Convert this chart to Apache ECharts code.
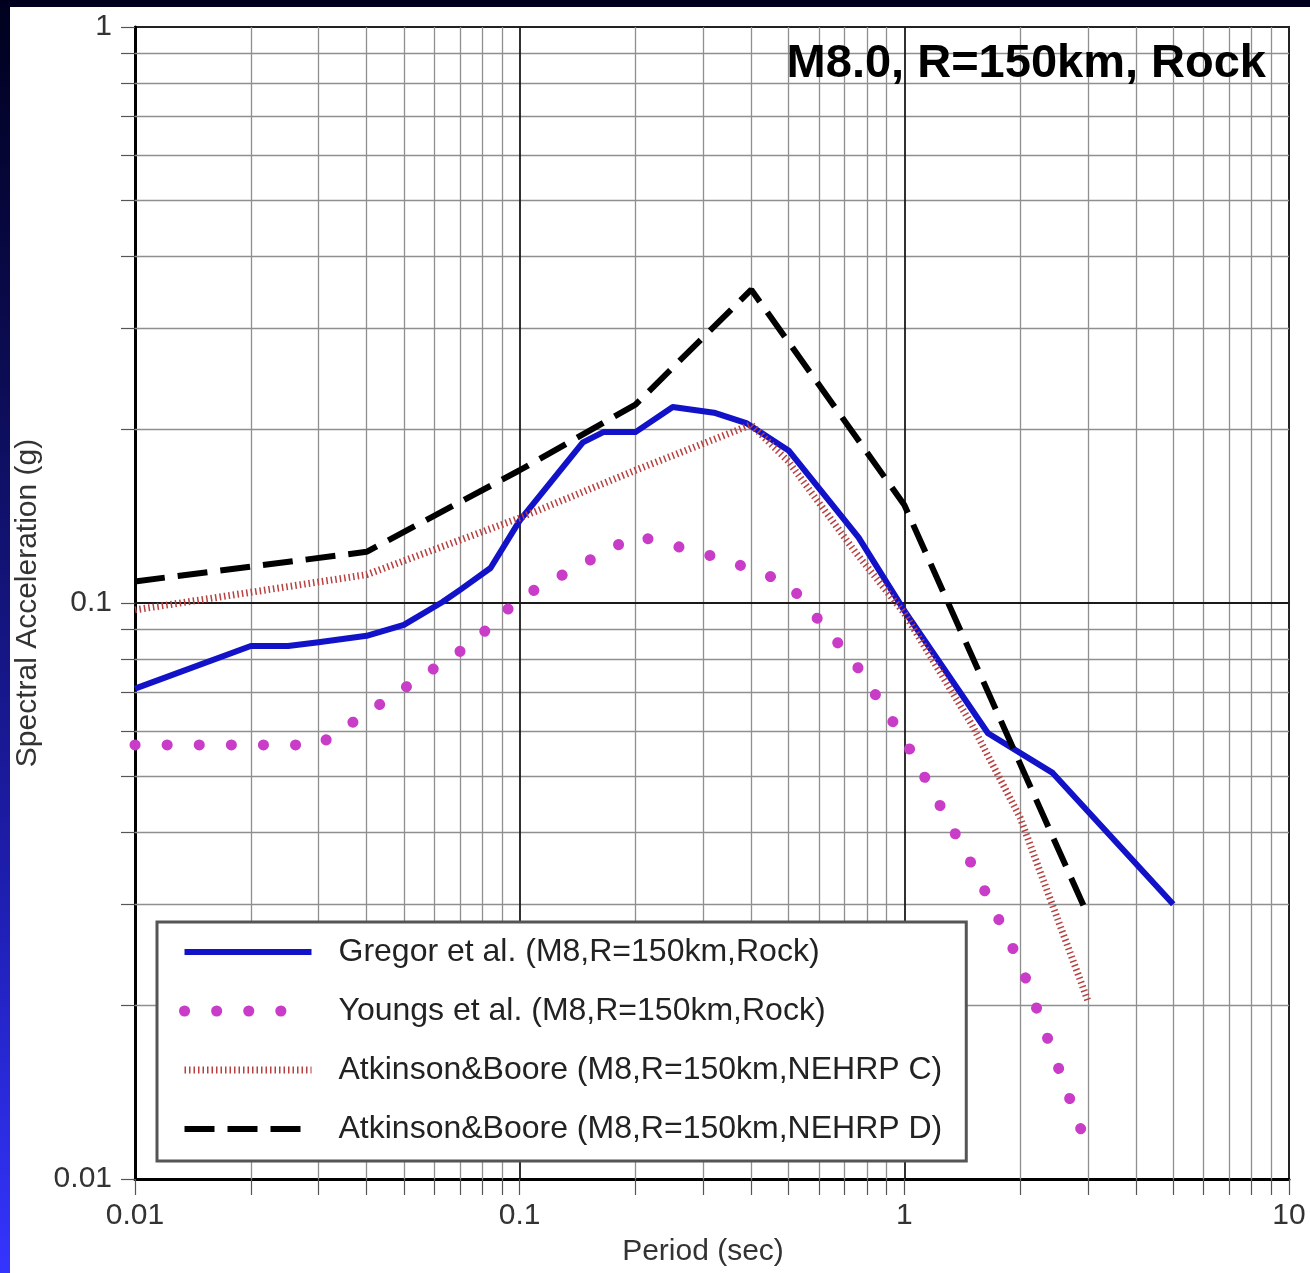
<!DOCTYPE html>
<html>
<head>
<meta charset="utf-8">
<script src="https://cdn.jsdelivr.net/npm/echarts@6/dist/echarts.min.js"></script>
<style>
  html, body { margin: 0; padding: 0; width: 1310px; height: 1273px; overflow: hidden;
    background: linear-gradient(to bottom, #00001e 0%, #0c0c55 30%, #1e1eb0 70%, #3434ff 100%); }
  #chart { position: absolute; left: 10px; top: 7px; width: 1300px; height: 1266px; background: #ffffff; }
</style>
</head>
<body>
<div id="chart"></div>
<script>
// ---------------- data ----------------
const seriesNames = [
  'Gregor et al. (M8,R=150km,Rock)',
  'Youngs et al. (M8,R=150km,Rock)',
  'Atkinson&Boore (M8,R=150km,NEHRP C)',
  'Atkinson&Boore (M8,R=150km,NEHRP D)'
];

const gregorPeriod = [0.01, 0.02, 0.025, 0.03, 0.04, 0.05, 0.063, 0.07, 0.084, 0.1, 0.146, 0.165, 0.2, 0.25, 0.32, 0.39, 0.5, 0.76, 1.0, 1.65, 2.43, 5.0];
const gregorSA     = [0.071, 0.0842, 0.0842, 0.0855, 0.0877, 0.0916, 0.1004, 0.1054, 0.115, 0.139, 0.19, 0.198, 0.198, 0.219, 0.214, 0.205, 0.184, 0.130, 0.097, 0.0594, 0.0507, 0.030];

const youngsPeriod = [0.01, 0.03, 0.075, 0.1, 0.2, 0.3, 0.4, 0.5, 0.75, 1.0, 1.5, 2.0, 3.0];
const youngsSA     = [0.0567, 0.0567, 0.085, 0.102, 0.131, 0.122, 0.1146, 0.108, 0.078, 0.058, 0.0351, 0.0237, 0.0113];

const abcPeriod = [0.01, 0.04, 0.1, 0.2, 0.4, 0.5, 0.75, 1.0, 1.5, 2.0, 3.0];
const abcSA     = [0.0973, 0.112, 0.1405, 0.170, 0.204, 0.176, 0.122, 0.096, 0.0614, 0.0424, 0.0204];

const abdPeriod = [0.01, 0.04, 0.1, 0.2, 0.4, 1.0, 3.0];
const abdSA     = [0.109, 0.1227, 0.170, 0.221, 0.35, 0.148, 0.0287];

const xMajorGrid = [0.1, 1];
const xMinorGrid = [0.02, 0.03, 0.04, 0.05, 0.06, 0.07, 0.08, 0.09,
                    0.2, 0.3, 0.4, 0.5, 0.6, 0.7, 0.8, 0.9,
                    2, 3, 4, 5, 6, 7, 8, 9];
const yMajorGrid = [0.1];
const yMinorGrid = [0.02, 0.03, 0.04, 0.05, 0.06, 0.07, 0.08, 0.09,
                    0.2, 0.3, 0.4, 0.5, 0.6, 0.7, 0.8, 0.9];
const xAllTicks = [0.01].concat(xMinorGrid.slice(0, 8), [0.1], xMinorGrid.slice(8, 16), [1], xMinorGrid.slice(16), [10]);
const yAllTicks = [0.01].concat(yMinorGrid.slice(0, 8), [0.1], yMinorGrid.slice(8), [1]);

const titleText = 'M8.0, R=150km, Rock';
const xAxisName = 'Period (sec)';
const yAxisName = 'Spectral Acceleration (g)';

// ---------------- build ----------------
function pairs(xs, ys) { return xs.map((x, i) => [x, ys[i]]); }

const FONT = '"Liberation Sans", Arial, Helvetica, sans-serif';
const chart = echarts.init(document.getElementById('chart'), null, { renderer: 'canvas' });

const minorStyle = { color: '#8f8f8f', width: 1.3, type: 'solid' };
const majorStyle = { color: '#1a1a1a', width: 1.8, type: 'solid' };
const gridLineData = []
  .concat(xMinorGrid.map(v => ({ xAxis: v, lineStyle: minorStyle })))
  .concat(yMinorGrid.map(v => ({ yAxis: v, lineStyle: minorStyle })))
  .concat(xMajorGrid.map(v => ({ xAxis: v, lineStyle: majorStyle })))
  .concat(yMajorGrid.map(v => ({ yAxis: v, lineStyle: majorStyle })));

const styles = [
  { color: '#1212c8', width: 6, type: 'solid', join: 'round' },
  { color: '#c83cc8', width: 11, type: [0.1, 32], cap: 'round' },
  { color: '#b84040', width: 7, type: [1.5, 3] },
  { color: '#000000', width: 6, type: [30, 13] }
];

const option = {
  animation: false,
  textStyle: { fontFamily: FONT },
  title: {
    text: titleText,
    right: 44, top: 34, padding: 0,
    textStyle: { fontFamily: FONT, fontSize: 47, fontWeight: 'bold', color: '#000' }
  },
  grid: {
    left: 125, right: 21, top: 20, bottom: 94,
    containLabel: false, outerBoundsMode: 'none',
    show: true, borderColor: '#222', borderWidth: 2, backgroundColor: '#fff'
  },
  legend: {
    data: seriesNames.map((n, i) => ({
      name: n,
      lineStyle: { color: styles[i].color, width: styles[i].width, type: styles[i].type, cap: styles[i].cap || 'butt' },
      itemStyle: { opacity: 0 }
    })),
    orient: 'vertical',
    left: 147, top: 915, z: 20,
    padding: [14, 24, 16, 22],
    itemWidth: 127, itemHeight: 22, itemGap: 27,
    backgroundColor: '#ffffff',
    borderColor: '#555555', borderWidth: 3,
    textStyle: { fontFamily: FONT, fontSize: 32, color: '#222', padding: [0, 0, 0, 22] }
  },
  xAxis: {
    type: 'log', logBase: 10, min: 0.01, max: 10,
    name: xAxisName, nameLocation: 'middle', nameGap: 58,
    nameTextStyle: { fontFamily: FONT, fontSize: 30, color: '#333', padding: [0, 18, 0, 0] },
    axisLine: { show: true, lineStyle: { color: '#000', width: 3 } },
    axisTick: { show: true, length: 16, lineStyle: { color: '#555', width: 1.2 }, customValues: xAllTicks },
    axisLabel: { fontFamily: FONT, fontSize: 30, color: '#333', margin: 22 },
    splitLine: { show: false },
    minorTick: { show: false }
  },
  yAxis: {
    type: 'log', logBase: 10, min: 0.01, max: 1,
    name: yAxisName, nameLocation: 'middle', nameGap: 85,
    nameTextStyle: { fontFamily: FONT, fontSize: 30, color: '#333' },
    axisLine: { show: true, lineStyle: { color: '#000', width: 3 } },
    axisTick: { show: true, length: 14, lineStyle: { color: '#555', width: 1.2 }, customValues: yAllTicks },
    axisLabel: { fontFamily: FONT, fontSize: 30, color: '#333', margin: 23 },
    splitLine: { show: false }
  },
  series: [
    {
      name: '__grid', type: 'line', data: [], silent: true, z: 1,
      markLine: { silent: true, z: 1, symbol: ['none', 'none'], label: { show: false }, animation: false,
        emphasis: { disabled: true }, data: gridLineData }
    }
  ].concat(seriesNames.map((n, i) => ({
    name: n, type: 'line', z: 2 + i, showSymbol: false, symbol: 'none',
    data: [pairs(gregorPeriod, gregorSA), pairs(youngsPeriod, youngsSA), pairs(abcPeriod, abcSA), pairs(abdPeriod, abdSA)][i],
    lineStyle: styles[i],
    itemStyle: { color: styles[i].color, opacity: 0 }
  })))
};
chart.setOption(option);
</script>
</body>
</html>
